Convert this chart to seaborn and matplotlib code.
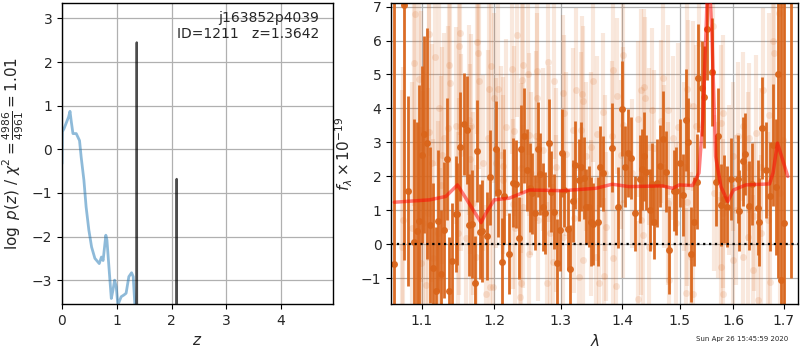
import matplotlib
matplotlib.use('Agg')
import matplotlib.pyplot as plt
import matplotlib.ticker as mticker
import seaborn as sns

# --- p(z) panel ---
pz_z = [0.0, 0.006, 0.036, 0.12, 0.146, 0.17, 0.2, 0.26, 0.32, 0.35, 0.4, 0.44, 0.49,
        0.54, 0.6, 0.68, 0.72, 0.75, 0.8, 0.82, 0.87, 0.9, 0.93, 0.96, 0.99, 1.02,
        1.08, 1.13, 1.17, 1.22, 1.27, 1.30, 1.33]
pz_logp = [-0.33, 0.40, 0.47, 0.74, 0.87, 0.63, 0.36, 0.36, 0.20, -0.18, -0.71, -1.32, -1.85,
           -2.24, -2.50, -2.62, -2.47, -2.55, -1.97, -2.08, -2.92, -3.42, -3.23, -3.00, -3.15, -3.57,
           -3.38, -3.34, -3.30, -2.92, -2.83, -2.92, -3.57]

peak1_z = [1.359, 1.3642, 1.369]
peak1_logp = [-4.0, 2.45, -4.0]
peak2_z = [2.088, 2.093, 2.098]
peak2_logp = [-4.0, -0.68, -4.0]

# --- spectrum panel ---
model_wave = [1.064, 1.110, 1.132, 1.148, 1.164, 1.181, 1.188, 1.200, 1.222, 1.252, 1.303,
              1.356, 1.383, 1.411, 1.469, 1.487, 1.499, 1.523, 1.535, 1.542, 1.549, 1.552,
              1.559, 1.566, 1.576, 1.589, 1.600, 1.624, 1.671, 1.678, 1.687, 1.708]
model_flux = [1.24, 1.31, 1.41, 1.75, 1.21, 0.64, 0.92, 1.31, 1.36, 1.60, 1.58,
              1.65, 1.77, 1.70, 1.72, 1.65, 1.75, 1.73, 2.10, 3.67, 6.70, 8.50,
              6.20, 2.59, 1.70, 1.26, 1.60, 1.75, 1.78, 2.10, 2.98, 2.00]

dark_wave = [1.064, 1.076, 1.082, 1.090, 1.093, 1.096, 1.100, 1.103, 1.107, 1.111, 1.115,
             1.119, 1.122, 1.126, 1.130, 1.133, 1.137, 1.141, 1.146, 1.148, 1.152, 1.157,
             1.161, 1.164, 1.168, 1.172, 1.175, 1.180, 1.183, 1.189, 1.194,
             1.203, 1.206, 1.211, 1.214, 1.222, 1.227, 1.231, 1.236, 1.239, 1.244, 1.248,
             1.253, 1.256, 1.260, 1.264, 1.268, 1.272, 1.276, 1.281, 1.285, 1.289, 1.294,
             1.298, 1.302, 1.305, 1.311, 1.315, 1.319, 1.323, 1.328, 1.332, 1.337, 1.340,
             1.344, 1.348,
             1.351, 1.359, 1.363, 1.368, 1.382, 1.393, 1.400, 1.404, 1.409, 1.414, 1.421,
             1.429, 1.433, 1.437, 1.441, 1.447, 1.450, 1.455, 1.460, 1.465, 1.470, 1.475,
             1.480, 1.489, 1.494, 1.500, 1.505, 1.511, 1.514, 1.520,
             1.525, 1.531, 1.534, 1.540, 1.545, 1.549, 1.560, 1.567, 1.570, 1.576, 1.581,
             1.588, 1.595, 1.608, 1.611, 1.618, 1.623, 1.631, 1.636, 1.647, 1.650, 1.656,
             1.663, 1.671, 1.677, 1.684, 1.689, 1.694, 1.700, 1.715]
dark_flux = [-0.59, 7.05, 1.57, 0.08, 0.40, 0.69, 2.64, 3.24, 2.98, 0.57, -0.69,
             -1.38, 0.69, -0.88, 0.42, 2.51, -1.38, -0.48, 0.89, 0.89, 2.88, 3.55,
             3.37, 0.57, 0.60, -1.15, 2.75, 0.37, 0.39, 0.25, 1.97,
             2.81, 1.53, -0.53, 1.41, -0.27, 1.82, 1.77, 0.18, 2.81, 3.20, 2.19,
             1.67, 1.50, 0.93, 2.80, 2.07, 1.09, 0.93, 2.98, 1.55, 0.96, -0.56,
             0.42, 2.68, 1.60, 0.44, -0.74, 1.28, 2.34, 1.90, 2.29, 1.95, 1.11,
             1.11, 0.67,
             0.60, 0.67, 2.29, 2.09, 2.85, 1.09, 3.99, 2.29, 2.68, 2.54, 0.91,
             1.93, 2.21, 2.59, 2.12, 1.01, 1.78, 0.66, 1.80, 2.31, 3.10, 2.14,
             -0.17, 1.58, 1.58, 2.39, 1.46, 3.67, 3.01, -0.29,
             0.67, 1.85, 4.90, 4.60, 4.34, 6.34, 5.07, 1.85, 3.20, 1.16, 1.33,
             1.11, 1.93, 1.93, 0.99, 2.44, 2.66, 1.14, 1.78, 1.08, 0.65, 3.42,
             2.19, 1.41, 2.93, 1.70, 5.00, -1.05, 0.64, 8.00]
dark_err = [8.0, 7.5, 2.8, 3.6, 3.2, 4.0, 2.6, 2.9, 3.4, 2.3, 2.5,
            1.9, 2.1, 1.9, 2.0, 1.8, 1.6, 1.7, 1.7, 1.5, 1.6, 1.5,
            1.6, 1.5, 1.6, 1.4, 1.5, 1.4, 1.5, 1.3, 1.4,
            1.4, 1.3, 1.3, 1.4, 1.2, 1.3, 1.3, 1.2, 1.3, 1.4, 1.2,
            1.3, 1.2, 1.1, 1.4, 1.2, 1.3, 1.2, 1.3, 1.2, 1.1, 1.3,
            1.2, 1.3, 1.1, 1.2, 1.3, 1.2, 1.3, 1.2, 1.3, 1.2, 1.1,
            1.2, 1.3,
            1.2, 1.3, 1.2, 1.1, 1.3, 1.2, 1.4, 1.2, 1.3, 1.2, 1.1,
            1.3, 1.2, 1.3, 1.1, 1.2, 1.2, 1.1, 1.3, 1.2, 1.4, 1.2,
            1.3, 1.2, 1.3, 1.3, 1.2, 1.5, 1.3, 1.4,
            1.3, 1.4, 1.6, 1.4, 1.5, 1.5, 1.6, 1.3, 1.4, 1.2, 1.3,
            1.2, 1.2, 1.3, 1.2, 1.3, 1.2, 1.3, 1.2, 1.4, 1.3, 1.5,
            1.4, 1.6, 1.8, 2.0, 6.0, 8.5, 7.5, 9.0]

light_wave = [1.0912, 1.1097, 1.0899, 1.1177, 1.1358, 1.1519, 1.1495, 1.1747, 1.1761, 1.0955,
              1.1377, 1.1785, 1.1952, 1.1928, 1.1231, 1.1344, 1.1459, 1.1090, 1.1299, 1.1634,
              1.1668, 1.1905, 1.1262, 1.1528, 1.1658, 1.1832, 1.1133, 1.0990, 1.0746, 1.0869,
              1.1074, 1.1254, 1.1505, 1.1690, 1.1675, 1.1008, 1.1208, 1.1481, 1.1598, 1.0735,
              1.0987, 1.1141, 1.1245, 1.1738, 1.1935, 1.1880, 1.1053,
              1.2000, 1.2048, 1.2327, 1.2415, 1.2259, 1.2490, 1.2401, 1.2631, 1.2794, 1.2887,
              1.2626, 1.3037, 1.3237, 1.3334, 1.3344, 1.3517, 1.3053, 1.2170, 1.2293, 1.2515,
              1.2616, 1.2717, 1.2820, 1.3184, 1.3318, 1.3398, 1.3079, 1.2097, 1.2024, 1.2131,
              1.2391, 1.2540, 1.2923, 1.3479, 1.2121, 1.2268, 1.2415, 1.2641, 1.2930, 1.3211,
              1.2300, 1.2835, 1.3027, 1.2505, 1.2385, 1.2779, 1.2871, 1.3350, 1.1976, 1.2376,
              1.3291,
              1.3834, 1.4001, 1.3900, 1.4313, 1.4371, 1.4388, 1.4703, 1.5122, 1.5140, 1.3669,
              1.4504, 1.4780, 1.4256, 1.4662, 1.4959, 1.3571, 1.3823, 1.4012, 1.4446, 1.4869,
              1.3973, 1.4545, 1.4170, 1.3707, 1.4721, 1.5079, 1.5135, 1.4005, 1.4318, 1.4785,
              1.4929, 1.3485, 1.3723, 1.4342, 1.3560, 1.3840, 1.4458, 1.3696, 1.3603, 1.3889,
              1.4260, 1.4809, 1.5110, 1.5201,
              1.5233, 1.5294, 1.5355, 1.5603, 1.5761, 1.5793, 1.6081, 1.6178, 1.6309, 1.6440,
              1.6572, 1.6773, 1.6806, 1.6705, 1.6908, 1.6976, 1.5907, 1.5984, 1.6276, 1.6539,
              1.5635, 1.5698, 1.5800, 1.6049, 1.6407, 1.6672, 1.6915, 1.6280, 1.6545, 1.5765,
              1.5990, 1.6185, 1.6374, 1.6710, 1.5240, 1.5806, 1.6473]
light_flux = [6.78, 6.20, 5.34, 5.52, 5.29, 6.22, 5.85, 5.95, 5.63, 4.87,
              4.75, 4.82, 5.24, 4.57, 4.01, 3.42, 3.49, 3.32, 3.13, 3.67,
              3.49, 3.13, 2.62, 2.70, 2.51, 2.39, 2.39, 2.88, 0.72, 0.47,
              0.91, 1.75, 1.41, 1.21, 0.72, 0.62, 0.32, 0.32, 0.18, -0.07,
              -0.56, -0.41, -0.95, -0.36, -1.25, -1.45, -1.20,
              4.31, 4.57, 6.15, 5.29, 5.16, 5.02, 4.85, 5.09, 5.36, 4.82,
              4.31, 4.45, 4.55, 4.42, 4.23, 4.82, 3.86, 3.44, 3.34, 3.23,
              3.18, 2.78, 2.95, 3.37, 3.37, 2.59, 2.66, 2.64, 2.39, 2.32,
              2.24, 2.09, 2.29, 2.88, 1.90, 1.19, 1.11, 0.72, 0.91, 0.77,
              0.47, 0.32, 0.23, -0.27, -1.13, -1.15, -0.51, -0.46, -1.25, -1.54,
              -0.95,
              5.14, 5.56, 4.36, 4.53, 4.63, 4.30, 4.90, 4.58, 4.11, 3.91,
              3.96, 3.96, 3.70, 3.62, 3.44, 3.25, 3.20, 3.52, 2.88, 3.13,
              2.64, 2.83, 2.09, 2.09, 2.29, 2.29, 1.26, 1.21, 0.72, 1.21,
              0.62, 0.77, 0.52, 0.28, -0.36, -0.39, -0.07, -0.93, -1.15, -1.23,
              -1.61, -1.05, -1.43, -0.36,
              4.06, 3.47, 5.93, 6.44, 3.57, 3.86, 3.18, 3.47, 3.13, 3.27,
              4.55, 5.98, 5.63, 3.82, 6.81, 3.08, 1.90, 2.59, 2.29, 2.29,
              1.52, 1.31, 0.91, 1.01, 0.82, 0.72, 1.50, 0.23, 0.32, -0.66,
              -0.46, -0.36, -0.76, -1.10, -1.45, -1.45, -1.64]
light_err = [4.0, 3.6, 4.2, 3.2, 2.9, 3.0, 2.8, 2.7, 2.9, 4.1,
             2.8, 2.6, 2.5, 2.7, 3.3, 3.0, 2.9, 3.8, 3.1, 2.8,
             2.7, 2.6, 3.2, 2.9, 2.8, 2.6, 3.5, 4.0, 4.5, 4.3,
             3.7, 3.2, 2.9, 2.7, 2.8, 3.9, 3.3, 3.0, 2.8, 4.6,
             4.0, 3.5, 3.2, 2.7, 2.6, 2.6, 3.8,
             2.5, 2.6, 2.4, 2.5, 2.5, 2.4, 2.6, 2.3, 2.4, 2.3,
             2.5, 2.3, 2.4, 2.3, 2.2, 2.4, 2.3, 2.6, 2.5, 2.4,
             2.5, 2.4, 2.3, 2.4, 2.3, 2.2, 2.4, 2.6, 2.5, 2.6,
             2.5, 2.4, 2.3, 2.2, 2.5, 2.5, 2.4, 2.4, 2.3, 2.2,
             2.5, 2.4, 2.3, 2.4, 2.5, 2.4, 2.3, 2.2, 2.6, 2.5,
             2.3,
             2.4, 2.5, 2.3, 2.4, 2.3, 2.4, 2.5, 2.6, 2.5, 2.3,
             2.4, 2.5, 2.3, 2.4, 2.5, 2.3, 2.2, 2.3, 2.3, 2.4,
             2.2, 2.3, 2.2, 2.3, 2.4, 2.5, 2.5, 2.2, 2.2, 2.4,
             2.4, 2.3, 2.2, 2.2, 2.3, 2.2, 2.3, 2.3, 2.3, 2.2,
             2.3, 2.4, 2.5, 2.5,
             2.5, 2.4, 2.5, 2.4, 2.3, 2.3, 2.2, 2.2, 2.2, 2.3,
             2.4, 3.5, 3.8, 3.0, 4.5, 5.0, 2.2, 2.2, 2.2, 2.3,
             2.3, 2.3, 2.2, 2.2, 2.2, 2.6, 4.5, 2.2, 2.3, 2.2,
             2.2, 2.2, 2.2, 3.0, 2.5, 2.2, 2.3]

spec_color = '#d9651b'

sns.set_style('ticks')
plt.rcParams['font.family'] = ['DejaVu Sans']
plt.rcParams['mathtext.fontset'] = 'dejavusans'

fig = plt.figure(figsize=(8, 3.5), dpi=100)
ax1 = fig.add_axes([0.0775, 0.131, 0.339, 0.860])
ax2 = fig.add_axes([0.489, 0.131, 0.509, 0.860])

# p(z)
sns.lineplot(x=pz_z, y=pz_logp, ax=ax1, color='tab:blue', alpha=0.5, lw=2,
             sort=False, estimator=None)
for zz, pp in [(peak1_z, peak1_logp), (peak2_z, peak2_logp)]:
    sns.lineplot(x=zz, y=pp, ax=ax1, color='k', alpha=0.7, lw=1.6,
                 sort=False, estimator=None)

ax1.set_xlim(0, 4.95)
ax1.set_ylim(-3.55, 3.35)
ax1.set_xticks([0, 1, 2, 3, 4])
ax1.set_yticks([-3, -2, -1, 0, 1, 2, 3])
ax1.grid(True, color='#b0b0b0', lw=0.9)
ax1.set_xlabel('$z$', fontsize=11)
ax1.set_ylabel(r'$\log\ p(z)$ / $\chi^2=\frac{4986}{4961}=1.01$', fontsize=11)
ax1.text(0.948, 0.975, 'j163852p4039\nID=1211   z=1.3642', transform=ax1.transAxes,
         ha='right', va='top', fontsize=10, linespacing=1.25)

# spectrum
ax2.errorbar(light_wave, light_flux, yerr=light_err, fmt='o', color=spec_color,
             alpha=0.15, ms=5, elinewidth=3, mec='none', zorder=1)
ax2.errorbar(dark_wave, dark_flux, yerr=dark_err, fmt='o', color=spec_color,
             alpha=0.95, ms=5, elinewidth=2, mec='none', zorder=2)
sns.lineplot(x=model_wave, y=model_flux, ax=ax2, color='r', alpha=0.5, lw=2.5,
             sort=False, estimator=None, zorder=3)
ax2.axhline(0, color='k', ls=':', lw=1.6, zorder=4)

ax2.set_xscale('log')
ax2.set_xlim(1.06, 1.73)
ax2.set_ylim(-1.76, 7.1)
ax2.xaxis.set_major_locator(mticker.FixedLocator([1.1, 1.2, 1.3, 1.4, 1.5, 1.6, 1.7]))
ax2.xaxis.set_major_formatter(mticker.FormatStrFormatter('%.1f'))
ax2.xaxis.set_minor_locator(mticker.NullLocator())
ax2.set_yticks([-1, 0, 1, 2, 3, 4, 5, 6, 7])
ax2.grid(True, color='#b0b0b0', lw=0.9)
ax2.set_axisbelow(True)
ax2.set_xlabel(r'$\lambda$', fontsize=11)
ax2.set_ylabel(r'$f_\lambda\times10^{-19}$', fontsize=11)

for ax in (ax1, ax2):
    ax.tick_params(labelsize=10, length=3.5, width=0.8, color='k')
    for sp in ax.spines.values():
        sp.set_color('k')
        sp.set_linewidth(1.0)

fig.text(0.985, 0.03, 'Sun Apr 26 15:45:59 2020', ha='right', va='center', fontsize=5)

fig.savefig('out.png', dpi=100)
plt.close(fig)
